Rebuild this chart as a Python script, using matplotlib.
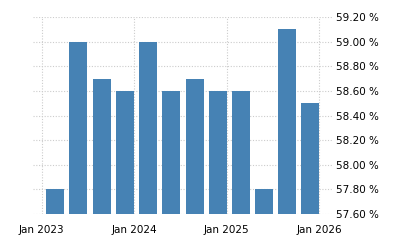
import matplotlib
matplotlib.use("Agg")
import matplotlib.pyplot as plt
import matplotlib.dates as mdates
import pandas as pd

# quarterly values, dated at quarter end
quarters = pd.date_range("2023-03-31", periods=12, freq="QE")
values = [57.8, 59.0, 58.7, 58.6, 59.0, 58.6, 58.7, 58.6, 58.6, 57.8, 59.1, 58.5]
xtick_dates = pd.to_datetime(["2023-01-01", "2024-01-01", "2025-01-01", "2026-01-01"])
xtick_labels = ["Jan 2023", "Jan 2024", "Jan 2025", "Jan 2026"]
yticks = [57.6, 57.8, 58.0, 58.2, 58.4, 58.6, 58.8, 59.0, 59.2]

fig = plt.figure(figsize=(4, 2.5), dpi=100)
ax = fig.add_axes([0.0825, 0.144, 0.7475, 0.788])

bar_end = quarters + pd.Timedelta(days=1)
ax.bar(bar_end, [v - 57.6 for v in values], bottom=57.6, width=-71,
       align="edge", color="#4682b4", zorder=2)

ax.set_ylim(57.6, 59.2)
ax.set_xlim(pd.Timestamp("2022-11-28"), pd.Timestamp("2026-02-20"))

ax.set_yticks(yticks)
ax.set_yticklabels([f"{t:.2f} %" for t in yticks])
ax.yaxis.tick_right()
ax.set_xticks(xtick_dates)
ax.set_xticklabels(xtick_labels)

ax.tick_params(axis="both", length=0, labelsize=7.5, colors="black")
ax.tick_params(axis="y", pad=3)
ax.tick_params(axis="x", pad=8)

ax.grid(True, color="#cccccc", linestyle=(0, (1, 1.5)), linewidth=0.8, zorder=0)
for s in ax.spines.values():
    s.set_visible(False)

fig.savefig("out.png", dpi=100)
